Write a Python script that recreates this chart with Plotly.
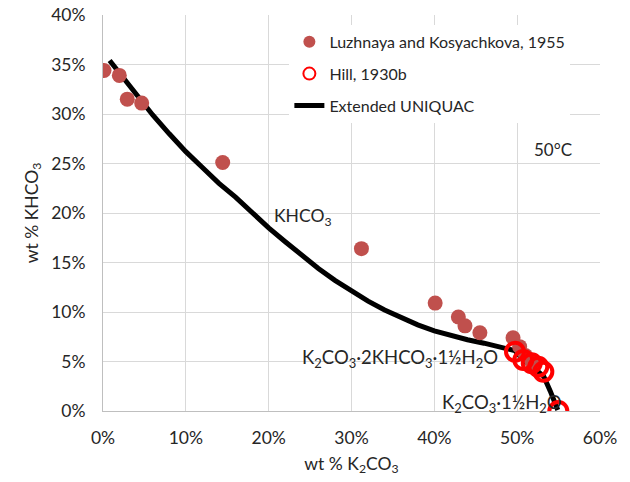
import plotly.graph_objects as go

# Luzhnaya and Kosyachkova, 1955 (wt %)
luz_x = [0.12, 1.97, 2.93, 4.67, 14.45, 31.2, 40.1, 42.9, 43.7, 45.5, 49.5, 50.3, 51.0, 51.8]
luz_y = [34.4, 33.9, 31.5, 31.1, 25.1, 16.4, 10.9, 9.5, 8.6, 7.9, 7.4, 6.5, 5.6, 4.9]

# Hill, 1930b (wt %)
hill_x = [49.74, 50.74, 51.76, 52.55, 53.16, 54.97]
hill_y = [5.99, 5.15, 4.82, 4.47, 3.97, 0.0]

# Extended UNIQUAC model (wt %)
uq_x = [0.8, 2, 4, 6, 8, 10, 12, 14, 16, 18, 20, 22, 24, 26, 28, 30, 32, 34, 36, 38,
        40, 42, 44, 46, 48, 49.7, 50.5, 51.5, 52.5, 53.2, 54.0, 54.5, 54.9]
uq_y = [35.4, 34.1, 31.9, 29.9, 28.0, 26.2, 24.6, 23.0, 21.6, 20.0, 18.5, 17.1, 15.7,
        14.4, 13.2, 12.1, 11.1, 10.2, 9.4, 8.7, 8.1, 7.6, 7.2, 6.85, 6.5, 6.1, 5.4,
        4.6, 4.0, 3.5, 2.0, 1.0, 0.1]

FONT = "Lato, Carlito, Calibri, sans-serif"
TXT = "#262626"
fig = go.Figure()

fig.add_trace(go.Scatter(x=uq_x, y=uq_y, mode="lines", name="Extended UNIQUAC",
                         line=dict(color="black", width=5), legendrank=3,
                         legendgroup="c"))
fig.add_trace(go.Scatter(x=luz_x, y=luz_y, mode="markers",
                         name="Luzhnaya and Kosyachkova, 1955",
                         marker=dict(color="#C0504D", size=15), legendrank=1,
                         legendgroup="a"))
fig.add_trace(go.Scatter(x=hill_x, y=hill_y, mode="markers", name="Hill, 1930b",
                         marker=dict(symbol="circle-open", color="#FF0000", size=18,
                                     line=dict(width=4, color="#FF0000")),
                         legendrank=2, legendgroup="b"))

ann = dict(showarrow=False, xref="x", yref="y")
fig.add_annotation(text="KHCO<sub>3</sub>", x=20.4, y=19.6, xanchor="left",
                   font=dict(size=17.5, color=TXT), **ann)
fig.add_annotation(text="50°C", x=54.3, y=26.4, xanchor="center",
                   font=dict(size=17, color=TXT), **ann)
fig.add_annotation(text="K<sub>2</sub>CO<sub>3</sub>·2KHCO<sub>3</sub>·1½H<sub>2</sub>O",
                   x=47.9, y=5.3, xanchor="right", font=dict(size=18.5, color=TXT), **ann)
fig.add_annotation(text="K<sub>2</sub>CO<sub>3</sub>·1½H<sub>2</sub>O",
                   x=55.6, y=0.75, xanchor="right", font=dict(size=18.5, color=TXT), **ann)

axis_common = dict(showgrid=True, gridcolor="#d9d9d9", gridwidth=1,
                   showline=True, linecolor="#bfbfbf", linewidth=1, mirror=False,
                   zeroline=False, ticks="", ticksuffix="%",
                   tickfont=dict(size=17.5, color=TXT))

fig.update_xaxes(range=[0, 60], dtick=10, tick0=0,
                 title=dict(text="wt % K<sub>2</sub>CO<sub>3</sub>",
                            font=dict(size=17.5, color=TXT), standoff=10),
                 ticklabelstandoff=11, **axis_common)
fig.update_yaxes(range=[0, 40], dtick=5, tick0=0,
                 title=dict(text="wt % KHCO<sub>3</sub>",
                            font=dict(size=17.5, color=TXT), standoff=8),
                 ticklabelstandoff=13, **axis_common)

fig.update_layout(
    width=630, height=482,
    margin=dict(l=103, r=30, t=15, b=71, autoexpand=False),
    paper_bgcolor="white", plot_bgcolor="white",
    font=dict(family=FONT, color=TXT),
    showlegend=True,
    legend=dict(x=0.375, y=0.975, xanchor="left", yanchor="top",
                bgcolor="white", font=dict(size=16, color=TXT),
                itemsizing="constant", tracegroupgap=8, traceorder="grouped"),
)

fig.write_html("out.html")
